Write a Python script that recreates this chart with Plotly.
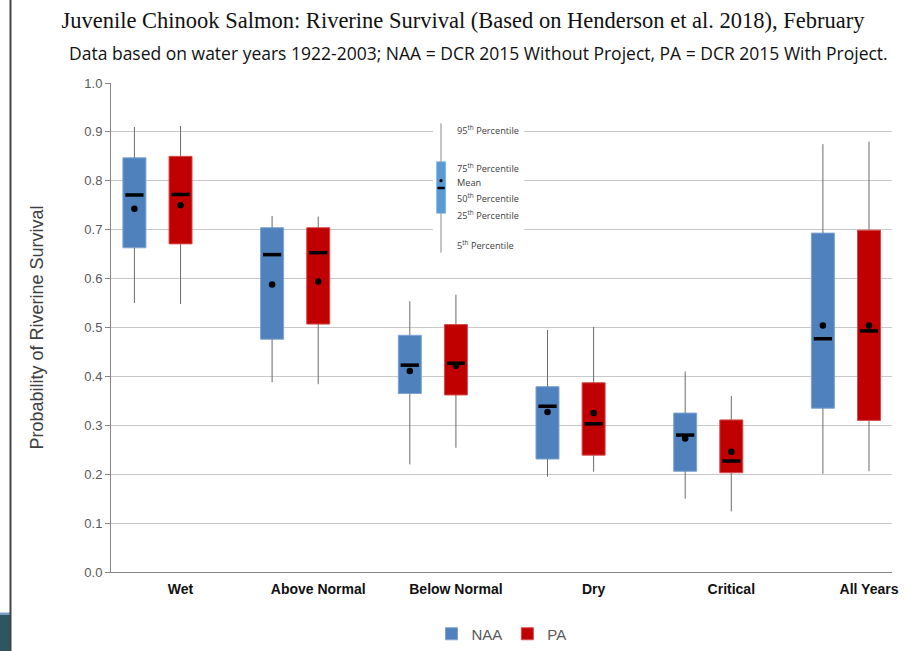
import plotly.graph_objects as go

# Water-year types on the category axis
categories = ["Wet", "Above Normal", "Below Normal", "Dry", "Critical", "All Years"]

# NAA (DCR 2015 without project) survival statistics
naa_p5 = [0.550, 0.388, 0.220, 0.195, 0.150, 0.201]
naa_p25 = [0.663, 0.476, 0.365, 0.231, 0.206, 0.335]
naa_p50 = [0.771, 0.649, 0.423, 0.339, 0.280, 0.477]
naa_mean = [0.743, 0.588, 0.411, 0.327, 0.273, 0.504]
naa_p75 = [0.847, 0.704, 0.484, 0.379, 0.325, 0.693]
naa_p95 = [0.910, 0.728, 0.554, 0.495, 0.410, 0.875]

# PA (DCR 2015 with project) survival statistics
pa_p5 = [0.548, 0.384, 0.254, 0.205, 0.124, 0.206]
pa_p25 = [0.671, 0.507, 0.362, 0.239, 0.203, 0.310]
pa_p50 = [0.772, 0.653, 0.427, 0.303, 0.227, 0.493]
pa_mean = [0.750, 0.594, 0.422, 0.325, 0.246, 0.504]
pa_p75 = [0.850, 0.704, 0.506, 0.387, 0.311, 0.699]
pa_p95 = [0.912, 0.727, 0.567, 0.501, 0.360, 0.880]

y_ticks = [0.0, 0.1, 0.2, 0.3, 0.4, 0.5, 0.6, 0.7, 0.8, 0.9, 1.0]

W, H = 909, 651
ML, MR, MT, MB = 111, 17, 83, 79
PW, PH = W - ML - MR, H - MT - MB

BOX_W = 0.167
NAA_SHIFT = -0.335

NAA_FILL, NAA_EDGE = "#4F81BD", "#7EA3D1"
PA_FILL, PA_EDGE = "#C00000", "#D94B4B"
WHISKER = "#6B6B6B"
SANS = "Liberation Sans, Arial, sans-serif"


def px_x(p):
    return (p - ML) / PW


def px_y(p):
    return (H - MB - p) / PH


fig = go.Figure()


def add_series(name, shift, p5, p25, p50, mean, p75, p95, fill, edge):
    xs = [i + shift for i in range(len(categories))]
    fig.add_trace(go.Bar(
        x=xs, y=[hi - lo for lo, hi in zip(p25, p75)], base=p25,
        width=BOX_W, name=name,
        marker=dict(color=fill, line=dict(color=edge, width=1)),
        hoverinfo="skip",
    ))
    wx, wy = [], []
    for x, lo, q1, q3, hi in zip(xs, p5, p25, p75, p95):
        wx += [x, x, None, x, x, None]
        wy += [hi, q3, None, q1, lo, None]
    fig.add_trace(go.Scatter(
        x=wx, y=wy, mode="lines", showlegend=False, hoverinfo="skip",
        line=dict(color=WHISKER, width=1),
    ))
    fig.add_trace(go.Scatter(
        x=xs, y=p50, mode="markers", showlegend=False, hoverinfo="skip",
        marker=dict(symbol="line-ew", size=13, color="black",
                    line=dict(color="black", width=3.5)),
    ))
    fig.add_trace(go.Scatter(
        x=xs, y=mean, mode="markers", showlegend=False, hoverinfo="skip",
        marker=dict(symbol="circle", size=6.5, color="black"),
    ))


add_series("NAA", NAA_SHIFT, naa_p5, naa_p25, naa_p50, naa_mean, naa_p75, naa_p95,
           NAA_FILL, NAA_EDGE)
add_series("PA", 0.0, pa_p5, pa_p25, pa_p50, pa_mean, pa_p75, pa_p95,
           PA_FILL, PA_EDGE)

shapes = []
annotations = []

# Key explaining the box-plot statistics
shapes.append(dict(type="rect", xref="paper", yref="paper",
                   x0=px_x(433), x1=px_x(524), y0=px_y(258), y1=px_y(117),
                   fillcolor="white", line=dict(width=0), layer="above"))
shapes.append(dict(type="line", xref="paper", yref="paper",
                   x0=px_x(441), x1=px_x(441), y0=px_y(252.7), y1=px_y(123.3),
                   line=dict(color="#8C8C8C", width=1), layer="above"))
shapes.append(dict(type="rect", xref="paper", yref="paper",
                   x0=px_x(436.5), x1=px_x(445.7), y0=px_y(213.3), y1=px_y(161.7),
                   fillcolor="#5B9BD5", line=dict(color="#7FB0E0", width=0.5),
                   layer="above"))
shapes.append(dict(type="circle", xref="paper", yref="paper",
                   x0=px_x(439.4), x1=px_x(442.6), y0=px_y(182.3), y1=px_y(179.1),
                   fillcolor="black", line=dict(width=0), layer="above"))
shapes.append(dict(type="line", xref="paper", yref="paper",
                   x0=px_x(437.5), x1=px_x(444.7), y0=px_y(188), y1=px_y(188),
                   line=dict(color="black", width=2.5), layer="above"))

key_labels = [
    ("95<sup>th</sup> Percentile", 130),
    ("75<sup>th</sup> Percentile", 168.3),
    ("Mean", 182),
    ("50<sup>th</sup> Percentile", 198.3),
    ("25<sup>th</sup> Percentile", 215),
    ("5<sup>th</sup> Percentile", 245),
]
for txt, yp in key_labels:
    annotations.append(dict(
        text=txt, xref="paper", yref="paper", x=px_x(455), y=px_y(yp),
        xanchor="left", yanchor="middle", showarrow=False,
        font=dict(family="Open Sans, sans-serif", size=9.2, color="#404040"),
    ))

# Subtitle
annotations.append(dict(
    text="Data based on water years 1922-2003; NAA = DCR 2015 Without Project, "
         "PA = DCR 2015 With Project.",
    xref="paper", yref="paper", x=px_x(478), y=px_y(53),
    xanchor="center", yanchor="middle", showarrow=False,
    font=dict(family="Open Sans, sans-serif", size=17.5, color="#111111"),
))

# Slide frame on the left edge
shapes.append(dict(type="rect", xref="paper", yref="paper",
                   x0=px_x(0), x1=px_x(10), y0=px_y(651), y1=px_y(615),
                   fillcolor="#2F5562", line=dict(width=0), layer="above"))
shapes.append(dict(type="rect", xref="paper", yref="paper",
                   x0=px_x(0), x1=px_x(10), y0=px_y(615), y1=px_y(612.5),
                   fillcolor="#7C9CC4", line=dict(width=0), layer="above"))
shapes.append(dict(type="line", xref="paper", yref="paper",
                   x0=px_x(10.5), x1=px_x(10.5), y0=px_y(651), y1=px_y(0),
                   line=dict(color="#444444", width=2), layer="above"))

fig.update_layout(
    width=W, height=H,
    margin=dict(l=ML, r=MR, t=MT, b=MB, pad=0, autoexpand=False),
    paper_bgcolor="white", plot_bgcolor="white",
    barmode="overlay",
    title=dict(
        text="Juvenile Chinook Salmon: Riverine Survival (Based on Henderson et al. 2018), February",
        x=463 / W, y=1 - 20 / H, xanchor="center", yanchor="middle",
        font=dict(family="Liberation Serif, Times New Roman, serif", size=22.5, color="#111111"),
    ),
    xaxis=dict(
        range=[-0.505, 5.167], automargin=False,
        tickmode="array", tickvals=list(range(len(categories))), ticktext=categories,
        showgrid=False, zeroline=False, showline=True,
        linecolor="#868686", linewidth=1, ticks="", ticklabelstandoff=4,
        tickfont=dict(family=SANS, size=14, color="#111111", weight="bold"),
    ),
    yaxis=dict(
        range=[0, 1], tickmode="array", tickvals=y_ticks, automargin=False,
        ticktext=[f"{v:.1f}" for v in y_ticks],
        showgrid=True, gridcolor="#C8C8C8", gridwidth=1,
        zeroline=False, showline=True, linecolor="#868686", linewidth=1,
        ticks="outside", ticklen=5, tickcolor="#868686",
        tickfont=dict(family=SANS, size=13, color="#595959"),
        title=dict(text="Probability of Riverine Survival", standoff=36,
                   font=dict(family=SANS, size=18, color="#404040")),
    ),
    legend=dict(
        orientation="h", x=0.5, xanchor="center", y=px_y(634), yanchor="middle",
        font=dict(family=SANS, size=15, color="#595959"),
        bgcolor="rgba(0,0,0,0)", itemwidth=30,
    ),
    shapes=shapes,
    annotations=annotations,
)

fig.write_html("out.html", config={"displayModeBar": False})
